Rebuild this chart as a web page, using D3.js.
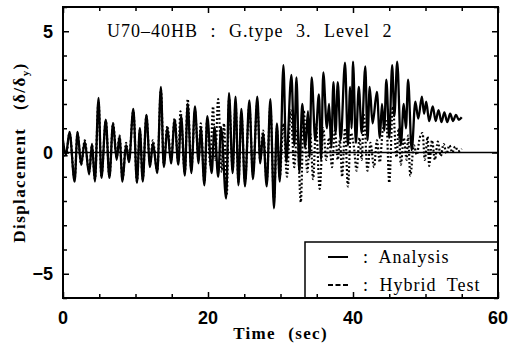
<!DOCTYPE html>
<html>
<head>
<meta charset="utf-8">
<script src="https://cdn.jsdelivr.net/npm/d3@7"></script>
<style>
  body { margin: 0; background: #fff; }
</style>
</head>
<body>
<svg id="chart" width="508" height="348"></svg>
<script>
"use strict";

// peaks and troughs (time in sec, displacement in delta/delta_y)
const analysisTime = [0.0, 0.4, 0.9, 1.6, 2.0, 2.5, 3.0, 3.6, 4.0, 4.4, 4.9, 5.3, 5.9, 6.4, 6.9, 7.4, 7.8, 8.2, 8.7, 9.1,
  9.7, 10.2, 10.6, 11.0, 11.5, 12.0, 12.4, 13.0, 13.5, 13.9, 14.4, 14.9, 15.4, 15.9, 16.3, 16.8, 17.2, 17.7, 18.2, 18.7,
  19.0, 19.5, 19.9, 20.5, 20.9, 21.4, 21.8, 22.5, 22.9, 23.4, 23.8, 24.2, 24.6, 25.1, 25.7, 26.2, 26.8, 27.2, 27.6, 28.1,
  28.6, 29.1, 29.5, 29.9, 30.4, 30.8, 31.5, 31.9, 32.2, 32.6, 33.0, 33.4, 33.8, 34.0, 34.3, 34.8, 35.3, 35.6, 35.9, 36.4,
  36.7, 37.0, 37.3, 37.6, 37.9, 38.3, 38.9, 39.3, 39.6, 39.8, 40.0, 40.4, 40.8, 41.2, 41.7, 42.0, 42.3, 42.7, 43.3, 43.7,
  44.0, 44.3, 44.6, 45.0, 45.4, 45.7, 46.1, 46.6, 47.0, 47.3, 47.6, 48.1, 48.6, 49.0, 49.5, 49.8, 50.1, 50.5, 51.0, 51.4,
  51.8, 52.2, 52.6, 53.0, 53.4, 53.8, 54.2, 54.6, 55.0];
const analysisDisp = [0.5, -0.1, 0.85, -1.2, 0.85, -0.5, 0.45, -0.9, 0.35, -1.2, 2.25, -1.05, 1.35, -1.05, 1.2, -0.3, 0.65, -1.2, 0.3, -0.4,
  1.8, -1.25, 1.0, -1.2, 1.55, -0.6, 0.4, -0.85, 2.7, -0.6, 1.0, -0.45, 1.35, -0.5, 1.5, -0.95, 2.0, -0.85, 1.9, -0.45,
  1.05, -1.35, 1.5, -0.85, 1.05, -1.0, 1.05, -1.9, 2.45, -0.85, 2.3, -1.35, 1.8, -1.4, 2.15, -1.1, 2.3, -0.45, 0.8, -1.4,
  2.2, -2.3, 1.2, -1.2, 3.6, -0.4, 3.2, 0.3, 3.1, -0.8, 2.0, 0.2, 1.7, -0.2, 3.1, 0.5, 2.4, -0.3, 3.3, 1.0,
  2.0, 0.2, 2.9, 0.8, 2.9, 0.5, 3.7, 0.3, 2.7, 1.0, 3.75, 0.4, 2.7, 0.8, 3.55, 0.5, 2.7, 1.2, 2.5, 0.6,
  2.0, 0.9, 3.0, 0.6, 3.6, 1.5, 3.75, 0.3, 2.0, 1.0, 3.0, 0.1, 2.1, 1.4, 2.3, 1.6, 2.1, 1.3, 1.9, 1.3,
  1.75, 1.25, 1.65, 1.25, 1.6, 1.3, 1.55, 1.35, 1.45];

const hybridTime = [0.0, 0.4, 0.9, 1.6, 2.0, 2.5, 3.0, 3.6, 4.0, 4.4, 4.9, 5.3, 5.9, 6.4, 6.9, 7.4, 7.8, 8.2, 8.7, 9.1,
  9.7, 10.2, 10.6, 11.0, 11.5, 12.0, 12.4, 13.0, 13.5, 13.9, 14.4, 14.9, 15.4, 15.9, 16.2, 16.8, 17.2, 17.7, 18.2, 18.7,
  19.0, 19.5, 19.9, 20.3, 20.7, 21.0, 21.4, 21.9, 22.2, 22.6, 22.9, 23.4, 23.8, 24.2, 24.6, 25.1, 25.7, 26.2, 26.8, 27.2,
  27.6, 28.1, 28.6, 29.1, 29.5, 29.9, 30.4, 30.9, 31.4, 31.9, 32.3, 32.8, 33.2, 33.7, 34.1, 34.5, 34.9, 35.4, 35.9, 36.3,
  36.7, 37.1, 37.5, 37.9, 38.2, 38.5, 38.9, 39.3, 39.7, 40.1, 40.5, 40.9, 41.2, 41.5, 42.0, 42.4, 42.9, 43.3, 43.7, 44.1,
  44.6, 45.0, 45.5, 46.0, 46.3, 46.6, 47.0, 47.4, 47.6, 47.9, 48.4, 48.8, 49.2, 49.6, 49.9, 50.3, 50.5, 50.9, 51.3, 51.7,
  52.1, 52.5, 52.9, 53.3, 53.7, 54.1, 54.5, 55.0];
const hybridDisp = [0.4, -0.2, 0.8, -1.1, 0.8, -0.5, 0.5, -0.8, 0.3, -1.1, 2.1, -1.0, 1.3, -1.0, 1.2, -0.2, 0.7, -1.1, 0.4, -0.3,
  1.7, -1.2, 0.9, -1.1, 1.5, -0.5, 0.5, -0.8, 2.6, -0.5, 1.1, -0.3, 1.4, -0.4, 1.7, -0.8, 2.2, -0.7, 1.7, -0.3,
  1.2, -1.2, 1.4, -0.5, 1.9, -0.3, 2.2, -0.8, 1.2, -1.7, 2.2, -0.7, 2.0, -1.2, 1.6, -1.2, 1.9, -0.9, 2.0, -0.3,
  0.9, -1.2, 1.9, -1.9, 1.0, -1.0, 1.2, -1.0, 1.75, -0.6, 1.0, -2.05, 1.75, -0.8, 0.8, -1.1, 1.15, -1.5, 1.0, -0.3,
  0.6, -0.6, 0.9, -0.3, 0.5, -1.0, 1.0, -1.4, 0.8, 0.3, -0.75, 0.6, -0.3, 1.55, -0.75, 0.4, -0.6, 0.5, -0.4, 0.9,
  1.3, -1.25, 1.9, -0.2, 1.0, -0.5, 0.6, -0.3, 0.7, -0.95, 0.3, -0.1, 0.6, 0.8, -0.3, 0.65, -0.55, 0.5, -0.3, 0.45,
  -0.15, 0.35, -0.05, 0.3, 0.0, 0.25, 0.05, 0.15];

const xTicks = [0, 5, 10, 15, 20, 25, 30, 35, 40, 45, 50, 55, 60];
const xLabels = [0, 20, 40, 60];
const yTicks = [-6, -5, -4, -3, -2, -1, 0, 1, 2, 3, 4, 5, 6];
const yLabels = [-5, 0, 5];

const titleText = "U70\u201340HB : G.type 3. Level 2";
const legendNames = ["Analysis", "Hybrid Test"];

const svg = d3.select("#chart");
const plotLeft = 63, plotRight = 498, plotTop = 7, plotBottom = 298;

const x = d3.scaleLinear().domain([0, 60]).range([plotLeft, plotRight]);
const y = d3.scaleLinear().domain([-6, 6]).range([plotBottom, plotTop]);

const serif = "'Liberation Serif', 'Times New Roman', serif";
const sans = "'Liberation Sans', Arial, sans-serif";

// zero line across the whole plot
svg.append("line")
  .attr("x1", plotLeft).attr("x2", plotRight)
  .attr("y1", y(0)).attr("y2", y(0))
  .attr("stroke", "#000").attr("stroke-width", 1.5);

const line = d3.line()
  .x(d => x(d[0]))
  .y(d => y(d[1]))
  .curve(d3.curveMonotoneX);

const hybrid = hybridTime.map((t, i) => [t, hybridDisp[i]]);
const analysis = analysisTime.map((t, i) => [t, analysisDisp[i]]);

svg.append("path")
  .datum(hybrid)
  .attr("fill", "none")
  .attr("stroke", "#000")
  .attr("stroke-width", 2.2)
  .attr("stroke-dasharray", "1.8,2.2")
  .attr("d", line);

svg.append("path")
  .datum(analysis)
  .attr("fill", "none")
  .attr("stroke", "#000")
  .attr("stroke-width", 2.3)
  .attr("stroke-linejoin", "round")
  .attr("d", line);

// legend box (lower right corner)
const lg = svg.append("g");
lg.append("rect")
  .attr("x", 305).attr("y", 242)
  .attr("width", plotRight - 305).attr("height", plotBottom - 242)
  .attr("fill", "#fff").attr("stroke", "#000").attr("stroke-width", 1.5);

legendNames.forEach((name, i) => {
  const ly = 257 + i * 28;
  lg.append("line")
    .attr("x1", 328).attr("x2", 348)
    .attr("y1", ly).attr("y2", ly)
    .attr("stroke", "#000").attr("stroke-width", 2)
    .attr("stroke-dasharray", i === 0 ? null : "5,2.5");
  lg.append("text")
    .attr("x", 363).attr("y", ly + 6)
    .attr("font-family", serif).attr("font-size", 18)
    .attr("letter-spacing", 1).attr("word-spacing", 5)
    .text(":  " + name);
});

// frame
svg.append("rect")
  .attr("x", plotLeft).attr("y", plotTop)
  .attr("width", plotRight - plotLeft).attr("height", plotBottom - plotTop)
  .attr("fill", "none").attr("stroke", "#000").attr("stroke-width", 2);

// inward ticks on all four sides
function tickLen(v, majors) { return majors.includes(v) ? 6 : 4; }

const gB = svg.append("g").attr("transform", `translate(0,${plotBottom})`)
  .call(d3.axisBottom(x).tickValues(xTicks).tickSizeOuter(0).tickFormat(""));
gB.selectAll(".tick line").attr("y2", d => -tickLen(d, xLabels)).attr("stroke-width", 1.5);

const gT = svg.append("g").attr("transform", `translate(0,${plotTop})`)
  .call(d3.axisTop(x).tickValues(xTicks).tickSizeOuter(0).tickFormat(""));
gT.selectAll(".tick line").attr("y2", d => tickLen(d, xLabels)).attr("stroke-width", 1.5);

const gL = svg.append("g").attr("transform", `translate(${plotLeft},0)`)
  .call(d3.axisLeft(y).tickValues(yTicks).tickSizeOuter(0).tickFormat(""));
gL.selectAll(".tick line").attr("x2", d => tickLen(d, yLabels)).attr("stroke-width", 1.5);

const gR = svg.append("g").attr("transform", `translate(${plotRight},0)`)
  .call(d3.axisRight(y).tickValues(yTicks).tickSizeOuter(0).tickFormat(""));
gR.selectAll(".tick line").attr("x2", d => -tickLen(d, yLabels)).attr("stroke-width", 1.5);

svg.selectAll(".domain").remove();

// tick labels
svg.append("g").selectAll("text")
  .data(xLabels).join("text")
  .attr("x", d => x(d)).attr("y", 324)
  .attr("text-anchor", "middle")
  .attr("font-family", sans).attr("font-size", 18).attr("font-weight", "bold")
  .text(d => d);

svg.append("g").selectAll("text")
  .data(yLabels).join("text")
  .attr("x", 53).attr("y", d => y(d) + 6.5)
  .attr("text-anchor", "end")
  .attr("font-family", sans).attr("font-size", 18).attr("font-weight", "bold")
  .text(d => d < 0 ? "\u2212" + Math.abs(d) : d);

// title inside the plot
svg.append("text")
  .attr("x", 107).attr("y", 37)
  .attr("font-family", serif).attr("font-size", 18)
  .attr("letter-spacing", 1).attr("word-spacing", 7)
  .text(titleText);

// axis titles
svg.append("text")
  .attr("x", (plotLeft + plotRight) / 2).attr("y", 339)
  .attr("text-anchor", "middle")
  .attr("font-family", serif).attr("font-size", 17).attr("font-weight", "bold")
  .attr("letter-spacing", 1.3).attr("word-spacing", 7)
  .text("Time (sec)");

const yt = svg.append("text")
  .attr("transform", `translate(25,${(plotTop + plotBottom) / 2}) rotate(-90)`)
  .attr("text-anchor", "middle")
  .attr("font-family", serif).attr("font-size", 17).attr("font-weight", "bold")
  .attr("letter-spacing", 1.4).attr("word-spacing", 12);
yt.append("tspan").text("Displacement (\u03b4/\u03b4");
yt.append("tspan").attr("font-size", 11).attr("dy", 4).text("y");
yt.append("tspan").attr("dy", -4).text(")");
</script>
</body>
</html>
